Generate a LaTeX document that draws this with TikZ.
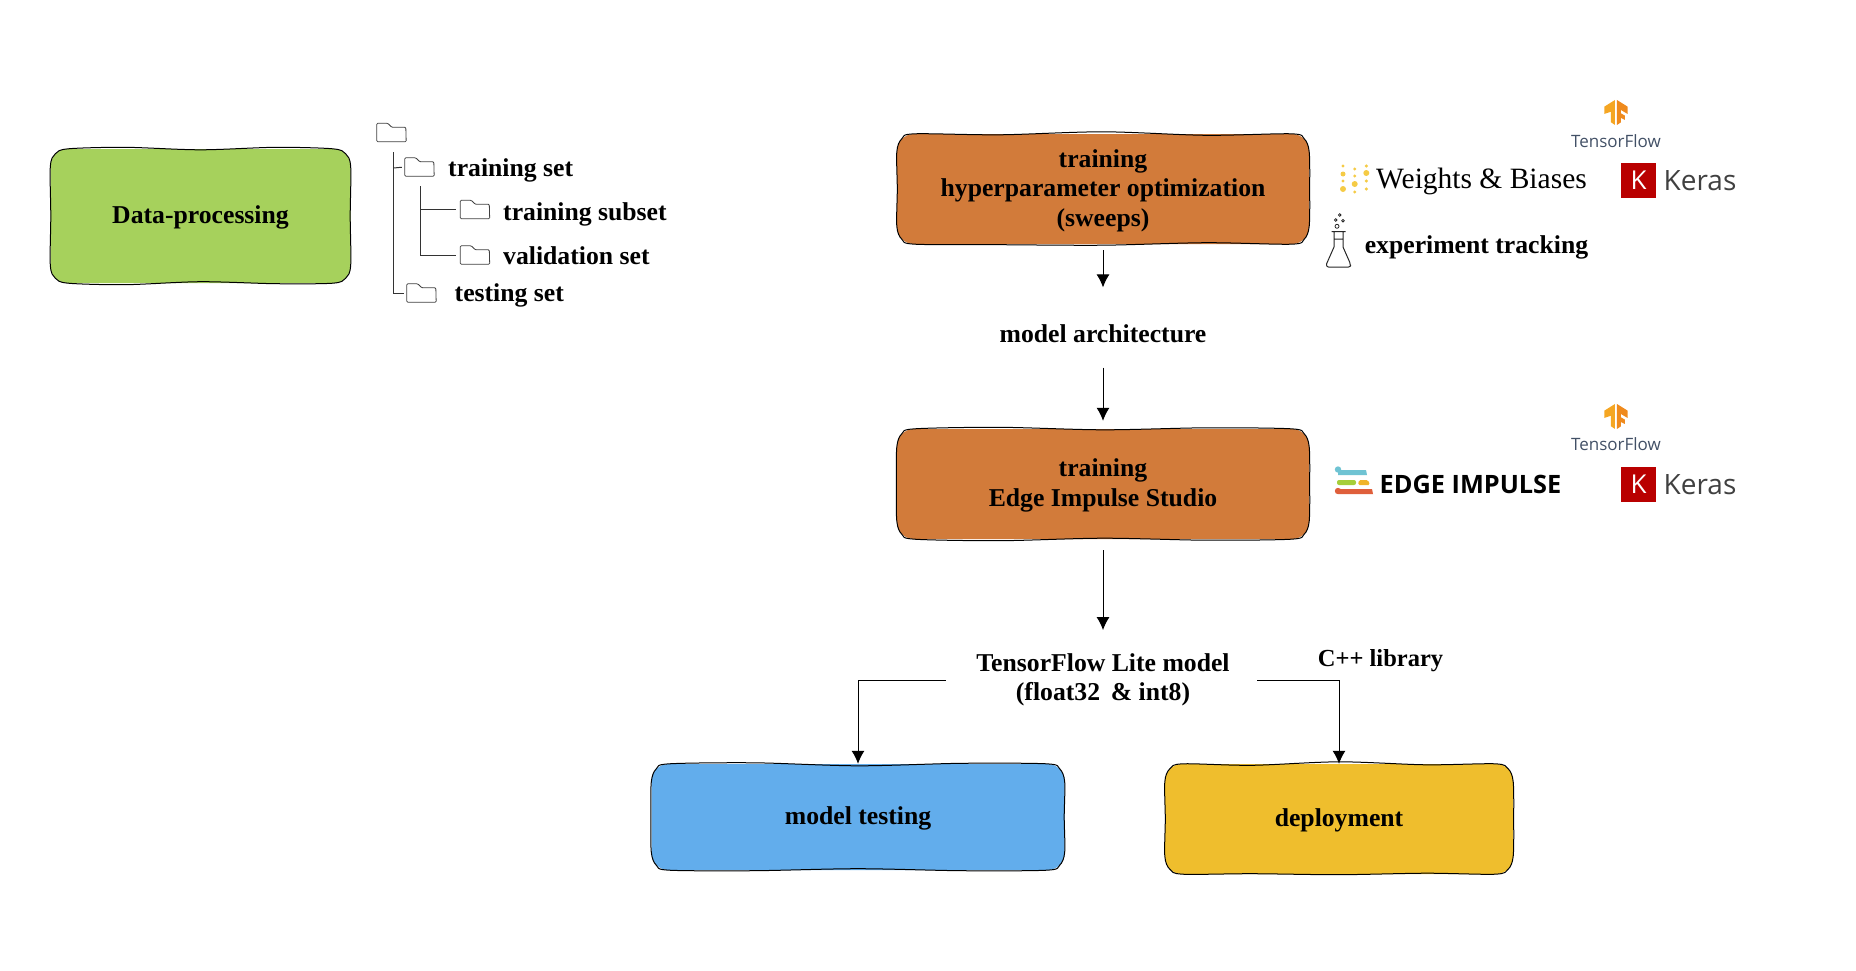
\documentclass[tikz,border=0pt]{standalone}
\usepackage{fontspec}
\setmainfont{Liberation Serif}
\newfontfamily\logofont{Open Sans}
\usetikzlibrary{arrows.meta,calc}
\definecolor{leafgreen}{HTML}{A6D15C}
\definecolor{clayorange}{HTML}{D27B3A}
\definecolor{skyblue}{HTML}{62ADEC}
\definecolor{sunyellow}{HTML}{EFBE2D}
\definecolor{kerasred}{HTML}{B90000}
\definecolor{flowslate}{HTML}{425066}
\definecolor{wandbgold}{HTML}{F5CB45}
\definecolor{tflight}{HTML}{F5A623}
\definecolor{tfdeep}{HTML}{EF8A1D}
\definecolor{edgeblue}{HTML}{6FC3D3}
\definecolor{edgegreen}{HTML}{A6CE39}
\definecolor{edgeyellow}{HTML}{F0B429}
\definecolor{edgered}{HTML}{DF5F3B}
\newcommand{\boxfont}{\fontsize{25.7}{29.5}\selectfont\bfseries}
\newcommand{\lift}{\rule{0pt}{21pt}}
% folder icon sits round an empty node
\newcommand{\folder}[2]{
  \node (#1) at (#2) [folderbox] {};
  \draw [folderline] (#1.south west) -- (#1.north west) -- ++(11,0) -- ++(4,4) -- ++(14,0) -- (#1.south east) -- cycle;
}
% hand drawn outline: top wobble 2-4, bottom wobble 5-7, left 8, right 9
\newcommand{\roughline}[9]{
  \draw [rough] plot [smooth cycle,tension=.5] coordinates {
    ($(#1.north west)+(18,0)$)
    ($(#1.north west)!.25!(#1.north east)+(0,#2)$)
    ($(#1.north west)!.5!(#1.north east)+(0,#3)$)
    ($(#1.north west)!.75!(#1.north east)+(0,#4)$)
    ($(#1.north east)+(-18,0)$) ($(#1.north east)+(-5,5)$) ($(#1.north east)+(0,18)$)
    ($(#1.east)+(#9,0)$)
    ($(#1.south east)+(0,-18)$) ($(#1.south east)+(-5,-5)$) ($(#1.south east)+(-18,0)$)
    ($(#1.south west)!.75!(#1.south east)+(0,#7)$)
    ($(#1.south west)!.5!(#1.south east)+(0,#6)$)
    ($(#1.south west)!.25!(#1.south east)+(0,#5)$)
    ($(#1.south west)+(18,0)$) ($(#1.south west)+(5,-5)$) ($(#1.south west)+(0,-18)$)
    ($(#1.west)+(#8,0)$)
    ($(#1.north west)+(0,18)$) ($(#1.north west)+(5,5)$)
  };
}
\newcommand{\tfmark}[3]{
  \begin{scope}[shift={(1560,#2)},x=.333pt,y=-.333pt]
    \fill [tflight] (133,50) -- (165,30) -- (165,105) -- (153,97) -- (153,65) -- (133,72) -- cycle;
    \fill [tfdeep] (171,30) -- (203,50) -- (203,72) -- (183,60) -- (183,70) -- (195,77) -- (195,90) -- (183,84) -- (183,97) -- (171,105) -- cycle;
  \end{scope}
  \node (#1) at (1616,#3) [tflabel] {TensorFlow};
}
\newcommand{\kerasmark}[2]{
  \node (#1) at (1638.5,#2) [kerasbox] {K};
  \node (#1text) at (1700,#2+1) [kerastext] {Keras};
}
\begin{document}
\begin{tikzpicture}
    [
    x=1pt,y=-1pt,
    sketchbox/.style={rectangle,rounded corners=17,inner sep=0pt,align=center,font=\boxfont},
    rough/.style={black,line width=1pt},
    plain/.style={align=center,font=\boxfont},
    folderbox/.style={rectangle,inner sep=0pt,minimum width=29,minimum height=18},
    folderline/.style={draw=black!75,line width=.8pt,rounded corners=1},
    treeline/.style={black!80,line width=1pt},
    flow/.style={black,line width=1pt,-{Latex[length=13,width=13]}},
    tflabel/.style={inner sep=0pt,text=flowslate,font=\logofont\fontsize{17}{20}\selectfont},
    kerasbox/.style={rectangle,fill=kerasred,text=white,inner sep=0pt,minimum size=35,font=\logofont\fontsize{26}{28}\selectfont},
    kerastext/.style={inner sep=0pt,text=black!75,font=\logofont\fontsize{28}{30}\selectfont},
    dot/.style={fill=wandbgold,draw=none}
    ]
    \useasboundingbox (0,0) rectangle (1856,970);

    % boxes
    \node (data) at (200.5,216) [sketchbox,fill=leafgreen,minimum width=300,minimum height=134] {\lift Data-processing};
    \node (tune) at (1103,189) [sketchbox,fill=clayorange,minimum width=412,minimum height=110] {\lift training\\hyperparameter optimization\\(sweeps)};
    \node (train) at (1103,484) [sketchbox,fill=clayorange,minimum width=412,minimum height=110] {\lift training\\Edge Impulse Studio};
    \node (test) at (858,817) [sketchbox,fill=skyblue,minimum width=413,minimum height=106] {\lift model testing};
    \node (deploy) at (1339,819) [sketchbox,fill=sunyellow,minimum width=348,minimum height=110] {\lift deployment};
    \roughline{data}{-1.5}{1}{-1.5}{1.5}{-1.5}{.5}{.5}{-.5}
    \roughline{tune}{1}{-2}{1.5}{.5}{1}{-1.5}{.5}{.5}
    \roughline{train}{-1.5}{1}{-1}{1.5}{-1}{1}{-.5}{.5}
    \roughline{test}{-1}{2}{-.5}{.5}{-1.5}{.5}{-.5}{-.5}
    \roughline{deploy}{1.5}{-2}{1}{-.5}{.5}{-1}{.5}{.5}

    % text between the boxes
    \node (arch) at (1103,334) [plain] {model architecture};
    \node (lite) at (1103,680) [plain] {TensorFlow Lite model\\(float32\, \& int8)};
    \node (cpp) at (1380.5,661) [plain,font=\fontsize{24.5}{28}\selectfont\bfseries] {C++ library};
    \draw [flow,shorten <=6,shorten >=34] (tune.south) -- (arch.north);
    \draw [flow,shorten <=21,shorten >=8] (arch.south) -- (train.north);
    \draw [flow,shorten <=11,shorten >=20] (train.south) -- (lite.north);
    \draw [flow,shorten <=27] (lite.west) -| (test.north);
    \draw [flow,shorten <=24] (lite.east) -| (deploy.north);

    % folder tree
    \folder{root}{391.5,132.5}
    \folder{trainset}{419.5,167}
    \folder{subset}{475,209.5}
    \folder{valset}{475,255}
    \folder{testset}{421.5,293}
    \node (trainsetlabel) at (448,170) [plain,anchor=west,inner sep=0pt] {training set};
    \node (subsetlabel) at (503,214) [plain,anchor=west,inner sep=0pt] {training subset};
    \node (valsetlabel) at (503,256) [plain,anchor=west,inner sep=0pt] {validation set};
    \node (testsetlabel) at (454.5,295) [plain,anchor=west,inner sep=0pt] {testing set};
    \coordinate (trunk) at (393.5,152);
    \coordinate (trunktick) at (393.5,168);
    \coordinate (subtrunk) at (420.5,186);
    \draw [treeline,shorten >=3] (trunk) |- (testset.west);
    \draw [treeline,shorten >=3] (trunktick) -- (trainset.west);
    \draw [treeline,shorten >=4] (subtrunk) |- (subset.west);
    \draw [treeline,shorten >=4] (subtrunk) |- (valset.west);

    % logos
    \tfmark{tfa}{90}{141}
    \tfmark{tfb}{394}{444}
    \kerasmark{kerasa}{180}
    \kerasmark{kerasb}{484}

    \node (wandb) at (1481.5,181) [inner sep=0pt,font=\fontsize{29.5}{32}\selectfont] {Weights \& Biases};
    \foreach \px/\py/\pr in {1343/166/1.7,1343/174/2.5,1343/181/1.7,1343/189/3,
        1354.7/169/1.7,1354.7/176/1.7,1354.7/184/3,1354.7/192/1.7,
        1366.3/166/1.7,1366.3/173/3,1366.3/181/1.7,1366.3/189/1.7}
      \fill [dot] (\px,\py) circle (\pr);

    \draw [black!85,line width=1pt,line join=round] (1331.7,231.7) -- (1345.7,231.7) (1334,231.7) -- (1334,247) -- (1326.5,264) [rounded corners=2] -- (1326.5,267) -- (1350.5,267) -- (1350.5,264) [sharp corners] -- (1343,247) -- (1343,231.7) (1334,239) -- (1343,239);
    \draw [black!85,line width=.8pt] (1339.7,215) circle (1.3) (1335.7,220) circle (1.3) (1343,220.7) circle (1.3) (1337,226.3) circle (2);
    \node (tracking) at (1476.5,247) [plain,inner sep=0pt] {experiment tracking};

    \fill [edgeblue] (1338,469.5) circle (3.2) (1338,470) -- (1366,470) -- (1367,475) -- (1338,475) -- cycle;
    \fill [rounded corners=2,edgegreen] (1337,480) rectangle (1356,485);
    \fill [rounded corners=1.5,edgeyellow] (1359,480) -- (1368,480) -- (1370,485) -- (1358,485) -- cycle;
    \fill [edgered] (1338,491) circle (3.2) (1338,489) -- (1372,489) -- (1373,494) -- (1338,494) -- cycle;
    \node (edge) at (1470.5,484) [inner sep=0pt,font=\logofont\bfseries\fontsize{25.3}{27}\selectfont] {EDGE IMPULSE};
  \end{tikzpicture}
\end{document}
